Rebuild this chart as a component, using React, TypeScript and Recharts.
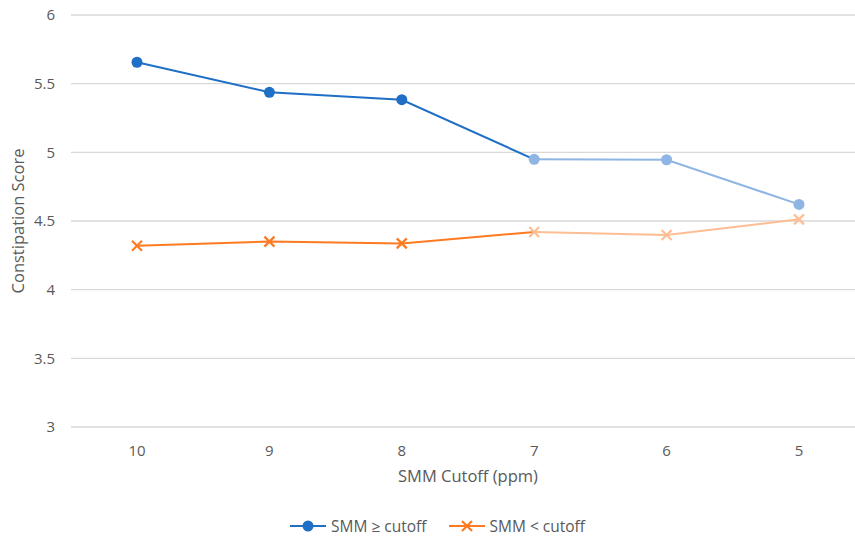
import React from 'react';
import { LineChart, Line, XAxis, YAxis, CartesianGrid, Label } from 'recharts';

// SMM cutoff thresholds (ppm), from high to low
const cutoffs = ['10', '9', '8', '7', '6', '5'];
// Mean constipation score for subjects at or above the cutoff
const aboveCutoff = [5.656, 5.437, 5.383, 4.949, 4.946, 4.621];
// Mean constipation score for subjects below the cutoff
const belowCutoff = [4.32, 4.35, 4.337, 4.42, 4.398, 4.512];
const yTicks = [3, 3.5, 4, 4.5, 5, 5.5, 6];

// index from which points are shown in a lighter tone
const fadeFrom = 3;

const BLUE = '#1f6fc6';
const BLUE_FADED = '#8fb5e4';
const ORANGE = '#fd7a22';
const ORANGE_FADED = '#ffbd93';
const TEXT = '#595959';
const FONT = '"Open Sans", "Noto Sans", sans-serif';

const rows = cutoffs.map((c, i) => ({
  cutoff: c,
  aboveSolid: i <= fadeFrom ? aboveCutoff[i] : null,
  aboveFaded: i >= fadeFrom ? aboveCutoff[i] : null,
  belowSolid: i <= fadeFrom ? belowCutoff[i] : null,
  belowFaded: i >= fadeFrom ? belowCutoff[i] : null,
}));

const circleDot = (color: string, onlyBeforeFade: boolean) => (props: any) => {
  const { cx, cy, index, value } = props;
  const hide = value == null || cy == null || (onlyBeforeFade && index >= fadeFrom);
  if (hide) return <g key={`c-${color}-${index}`} />;
  return <circle key={`c-${color}-${index}`} cx={cx} cy={cy} r={5.5} fill={color} stroke="none" />;
};

const crossDot = (color: string, onlyBeforeFade: boolean) => (props: any) => {
  const { cx, cy, index, value } = props;
  const hide = value == null || cy == null || (onlyBeforeFade && index >= fadeFrom);
  if (hide) return <g key={`x-${color}-${index}`} />;
  const s = 5;
  return (
    <g key={`x-${color}-${index}`} stroke={color} strokeWidth={2.2} strokeLinecap="butt">
      <line x1={cx - s} y1={cy - s} x2={cx + s} y2={cy + s} />
      <line x1={cx - s} y1={cy + s} x2={cx + s} y2={cy - s} />
    </g>
  );
};

const LegendBox = () => (
  <div
    style={{
      position: 'absolute',
      left: 289,
      top: 515,
      display: 'flex',
      alignItems: 'center',
      fontFamily: FONT,
      fontSize: 15.5,
      color: TEXT,
      lineHeight: '22px',
      whiteSpace: 'nowrap',
    }}
  >
    <svg width={38} height={22} style={{ display: 'block' }}>
      <line x1={1} y1={11} x2={37} y2={11} stroke={BLUE} strokeWidth={2} />
      <circle cx={19} cy={11} r={5.5} fill={BLUE} />
    </svg>
    <span style={{ marginLeft: 4 }}>SMM ≥ cutoff</span>
    <svg width={38} height={22} style={{ display: 'block', marginLeft: 21 }}>
      <line x1={1} y1={11} x2={37} y2={11} stroke={ORANGE} strokeWidth={2} />
      <g stroke={ORANGE} strokeWidth={2.2}>
        <line x1={14} y1={6} x2={24} y2={16} />
        <line x1={14} y1={16} x2={24} y2={6} />
      </g>
    </svg>
    <span style={{ marginLeft: 4 }}>SMM &lt; cutoff</span>
  </div>
);

export default function App() {
  return (
    <div
      style={{
        position: 'absolute',
        left: 0,
        top: 0,
        width: 855,
        height: 538,
        overflow: 'hidden',
        background: '#ffffff',
      }}
    >
      <LineChart
        width={866}
        height={538}
        data={rows}
        margin={{ top: 15, right: 1, bottom: 0, left: 0 }}
        style={{ fontFamily: FONT }}
      >
        <CartesianGrid vertical={false} stroke="#d9d9d9" strokeWidth={1.3} />
        <XAxis
          dataKey="cutoff"
          axisLine={false}
          tickLine={false}
          height={111}
          tickMargin={12}
          padding={{ left: 66, right: 66 }}
          tick={{ fill: TEXT, fontSize: 15 }}
        >
          <Label
            value="SMM Cutoff (ppm)"
            position="insideTop"
            offset={43}
            style={{ fill: TEXT, fontSize: 16.5 }}
          />
        </XAxis>
        <YAxis
          domain={[3, 6]}
          ticks={yTicks}
          axisLine={false}
          tickLine={false}
          width={71}
          tickMargin={10}
          tick={{ fill: TEXT, fontSize: 15 }}
        >
          <Label
            value="Constipation Score"
            angle={-90}
            position="insideLeft"
            offset={18}
            style={{ fill: TEXT, fontSize: 16.5, textAnchor: 'middle' }}
          />
        </YAxis>

        <Line
          dataKey="aboveFaded"
          stroke={BLUE_FADED}
          strokeWidth={2}
          dot={circleDot(BLUE_FADED, false)}
          activeDot={false}
          connectNulls={false}
          isAnimationActive={false}
        />
        <Line
          dataKey="aboveSolid"
          stroke={BLUE}
          strokeWidth={2}
          dot={circleDot(BLUE, true)}
          activeDot={false}
          connectNulls={false}
          isAnimationActive={false}
        />
        <Line
          dataKey="belowFaded"
          stroke={ORANGE_FADED}
          strokeWidth={2}
          dot={crossDot(ORANGE_FADED, false)}
          activeDot={false}
          connectNulls={false}
          isAnimationActive={false}
        />
        <Line
          dataKey="belowSolid"
          stroke={ORANGE}
          strokeWidth={2}
          dot={crossDot(ORANGE, true)}
          activeDot={false}
          connectNulls={false}
          isAnimationActive={false}
        />
      </LineChart>
      <LegendBox />
    </div>
  );
}
